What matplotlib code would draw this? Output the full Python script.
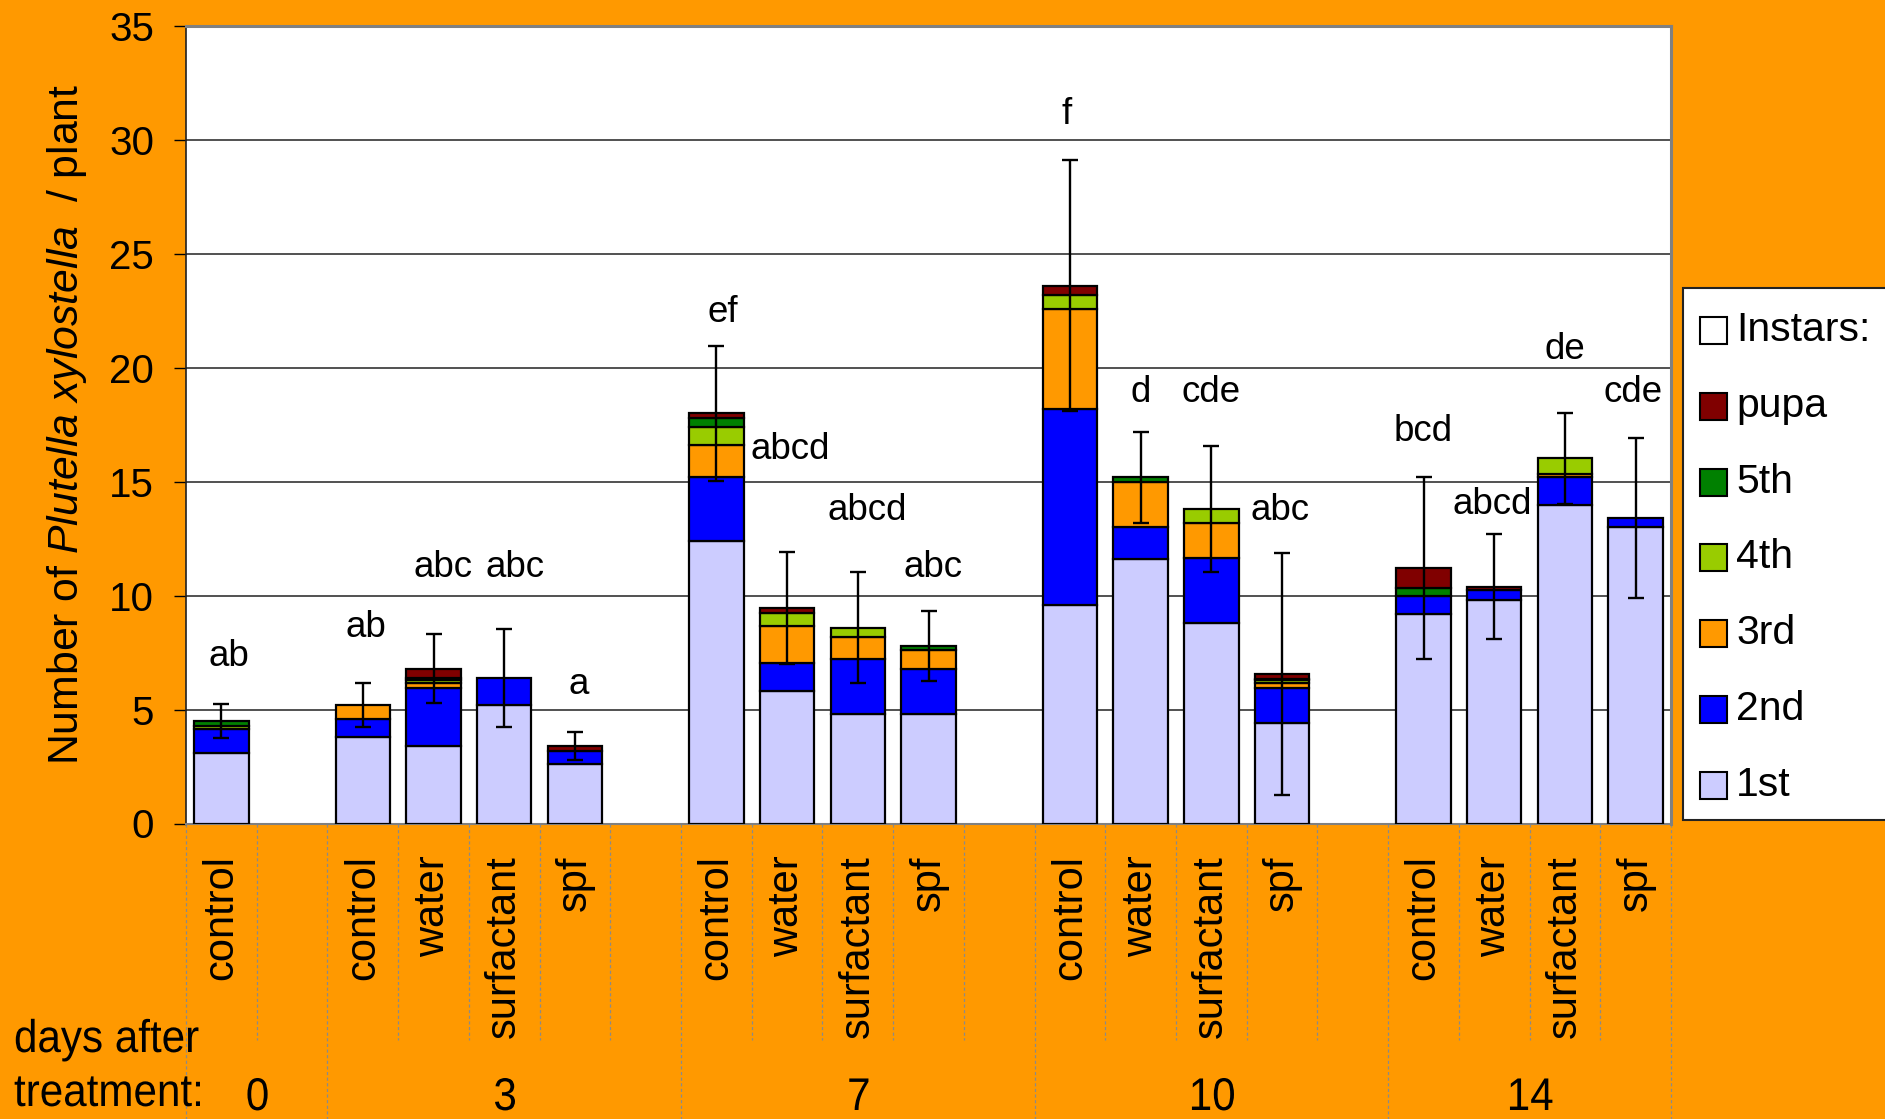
import numpy as np
import matplotlib
matplotlib.use("Agg")
import matplotlib.pyplot as plt
from matplotlib.patches import Rectangle, PathPatch
from matplotlib.transforms import blended_transform_factory, Affine2D, IdentityTransform
from matplotlib.textpath import TextPath
from matplotlib.font_manager import FontProperties

plt.rcParams["font.family"] = ["Liberation Sans", "DejaVu Sans"]
plt.rcParams["mathtext.fontset"] = "custom"
plt.rcParams["mathtext.rm"] = "Liberation Sans"
plt.rcParams["mathtext.it"] = "Liberation Sans:italic"

# ---- data -------------------------------------------------------------
days = ["0", "3", "7", "10", "14"]
treatments = [
    ["control"],
    ["control", "water", "surfactant", "spf"],
    ["control", "water", "surfactant", "spf"],
    ["control", "water", "surfactant", "spf"],
    ["control", "water", "surfactant", "spf"],
]

# mean number of individuals per plant, by developmental stage
first = [3.1, 3.8, 3.4, 5.2, 2.6, 12.4, 5.8, 4.8, 4.8, 9.6, 11.6, 8.8, 4.4, 9.2, 9.8, 14.0, 13.0]
second = [1.05, 0.8, 2.55, 1.2, 0.6, 2.8, 1.25, 2.4, 2.0, 8.6, 1.4, 2.85, 1.55, 0.8, 0.45, 1.2, 0.4]
third = [0.0, 0.6, 0.2, 0.0, 0.0, 1.4, 1.6, 1.0, 0.8, 4.4, 2.0, 1.55, 0.2, 0.0, 0.0, 0.12, 0.0]
fourth = [0.15, 0.0, 0.15, 0.0, 0.0, 0.8, 0.6, 0.4, 0.0, 0.6, 0.0, 0.6, 0.15, 0.0, 0.0, 0.7, 0.0]
fifth = [0.2, 0.0, 0.1, 0.0, 0.0, 0.4, 0.0, 0.0, 0.2, 0.0, 0.2, 0.0, 0.05, 0.35, 0.0, 0.0, 0.0]
pupa = [0.0, 0.0, 0.4, 0.0, 0.2, 0.2, 0.2, 0.0, 0.0, 0.4, 0.0, 0.0, 0.2, 0.85, 0.15, 0.0, 0.0]

# standard error of the total
total_err = [0.75, 0.95, 1.53, 2.15, 0.6, 2.95, 2.45, 2.42, 1.53, 5.5, 2.0, 2.76, 5.3, 4.0, 2.3, 2.0, 3.5]

# significance letters, the height at which they are written and a small sideways nudge
letters = ["ab", "ab", "abc", "abc", "a", "ef", "abcd", "abcd", "abc",
           "f", "d", "cde", "abc", "bcd", "abcd", "de", "cde"]
letter_y = [7.32, 8.62, 11.22, 11.22, 6.12, 22.42, 16.42, 13.72, 11.22,
            31.12, 18.92, 18.92, 13.72, 17.22, 14.02, 20.82, 18.92]
letter_dx = [0.1, 0.05, 0.14, 0.15, 0.05, 0.09, 0.05, 0.14, 0.07,
             -0.05, 0.0, 0.0, -0.03, 0.0, -0.03, 0.0, -0.04]

stage_names = ["1st", "2nd", "3rd", "4th", "5th", "pupa"]
stage_colors = ["#CCCCFF", "#0000FF", "#FF9900", "#99CC00", "#008000", "#800000"]

# ---- layout: one slot per bar, empty slot between day groups -----------
positions = []
group_edges = [-0.5]
slot = 0
for gi, trs in enumerate(treatments):
    for _ in trs:
        positions.append(slot)
        slot += 1
    if gi < len(treatments) - 1:
        slot += 1  # empty slot after the group
    group_edges.append(slot - 0.5)
n_slots = slot
positions = np.array(positions, dtype=float)
labels = [t for trs in treatments for t in trs]

W, H = 1885, 1119
fig = plt.figure(figsize=(W / 100, H / 100), dpi=100, facecolor="#FF9900")
ax_l, ax_r, ax_t, ax_b = 186, 1671, 26, 823.5
ax = fig.add_axes([ax_l / W, 1 - ax_b / H, (ax_r - ax_l) / W, (ax_b - ax_t) / H])
ax.set_facecolor("white")

stack = np.array([first, second, third, fourth, fifth, pupa])
bottom = np.zeros(len(positions))
for vals, color in zip(stack, stage_colors):
    edges = ["black" if v > 0 else "none" for v in vals]
    ax.bar(positions, vals, width=0.77, bottom=bottom, color=color,
           edgecolor=edges, linewidth=1.6, zorder=3)
    bottom = bottom + vals
totals = bottom

ax.errorbar(positions, totals, yerr=total_err, fmt="none", ecolor="black",
            elinewidth=1.7, capsize=5.5, capthick=1.7, zorder=5)

for x, dx, t, y in zip(positions, letter_dx, letters, letter_y):
    ax.text(x + dx, y, t, ha="center", va="center", fontsize=26.5, zorder=6)

ax.set_xlim(-0.5, n_slots - 0.5)
ax.set_ylim(0, 35)
ax.set_yticks(np.arange(0, 36, 5))
ax.tick_params(axis="y", labelsize=29, length=9, width=1, pad=14, direction="out")
ax.set_xticks(positions)
ax.set_xticklabels(labels, rotation=90, fontsize=30)
ax.tick_params(axis="x", length=0, pad=23)

for yv in range(5, 35, 5):
    ax.axhline(yv, color="#222222", linewidth=1.1, zorder=1)

ax.spines["left"].set_color("#202020")
ax.spines["left"].set_linewidth(1.2)
for s in ("top", "right"):
    ax.spines[s].set_color("#808080")
    ax.spines[s].set_linewidth(2.2)
ax.spines["bottom"].set_color("#808080")
ax.spines["bottom"].set_linewidth(1.5)

# category separators below the axis
trans = blended_transform_factory(ax.transData, ax.transAxes)
ax_h = ax_b - ax_t
inner_end = -(1040 - ax_b) / ax_h
outer_end = -(1125 - ax_b) / ax_h
for e in np.arange(-0.5, n_slots, 1.0):
    end = outer_end if any(abs(e - g) < 1e-6 for g in group_edges) else inner_end
    ax.plot([e, e], [0, end], transform=trans, clip_on=False,
            color="#8a8a8a", linewidth=0.9, linestyle=(0, (2.5, 2)), zorder=0)


# condensed text for the day axis, drawn as horizontally squeezed glyph outlines
cond_prop = FontProperties(family="Liberation Sans")
cond_px = 33 * 100 / 72
squeeze = 0.92


def condensed_text(s, x_px, baseline_from_top, align="left"):
    tp = TextPath((0, 0), s, size=cond_px, prop=cond_prop)
    w = tp.get_extents().x1 * squeeze
    if align == "center":
        x_px = x_px - w / 2
    tr = Affine2D().scale(squeeze, 1).translate(x_px, H - baseline_from_top)
    patch = PathPatch(tr.transform_path(tp), transform=IdentityTransform(),
                      facecolor="black", edgecolor="none", lw=0)
    fig.add_artist(patch)


fig.canvas.draw()
for d, lo, hi in zip(days, group_edges[:-1], group_edges[1:]):
    xc = ax.transData.transform(((lo + hi) / 2, 0))[0]
    condensed_text(d, xc, 1110, align="center")
condensed_text("days after", 14, 1052)
condensed_text("treatment:", 14, 1106)

fig.text(67 / W, 1 - 424 / H, r"Number of $\mathit{Plutella\ xylostella}$  / plant",
         rotation=90, ha="center", va="center", fontsize=30.8)

# legend box
fig.patches.append(Rectangle((1683 / W, 1 - 820 / H), (W + 20 - 1683) / W, (820 - 288) / H,
                             transform=fig.transFigure, facecolor="white",
                             edgecolor="#222222", linewidth=1.5, zorder=0))
leg_items = [("Instars:", "white")] + [(n, c) for n, c in zip(stage_names[::-1], stage_colors[::-1])]
for i, (name, color) in enumerate(leg_items):
    cy = 330 + i * 75.8
    fig.patches.append(Rectangle((1700 / W, 1 - (cy + 14) / H), 27 / W, 27 / H,
                                 transform=fig.transFigure, facecolor=color,
                                 edgecolor="black", linewidth=1.5, zorder=1))
    fig.text(1736 / W, 1 - cy / H, name, ha="left", va="center", fontsize=29.5)

fig.savefig("out.png", dpi=100, facecolor=fig.get_facecolor())
